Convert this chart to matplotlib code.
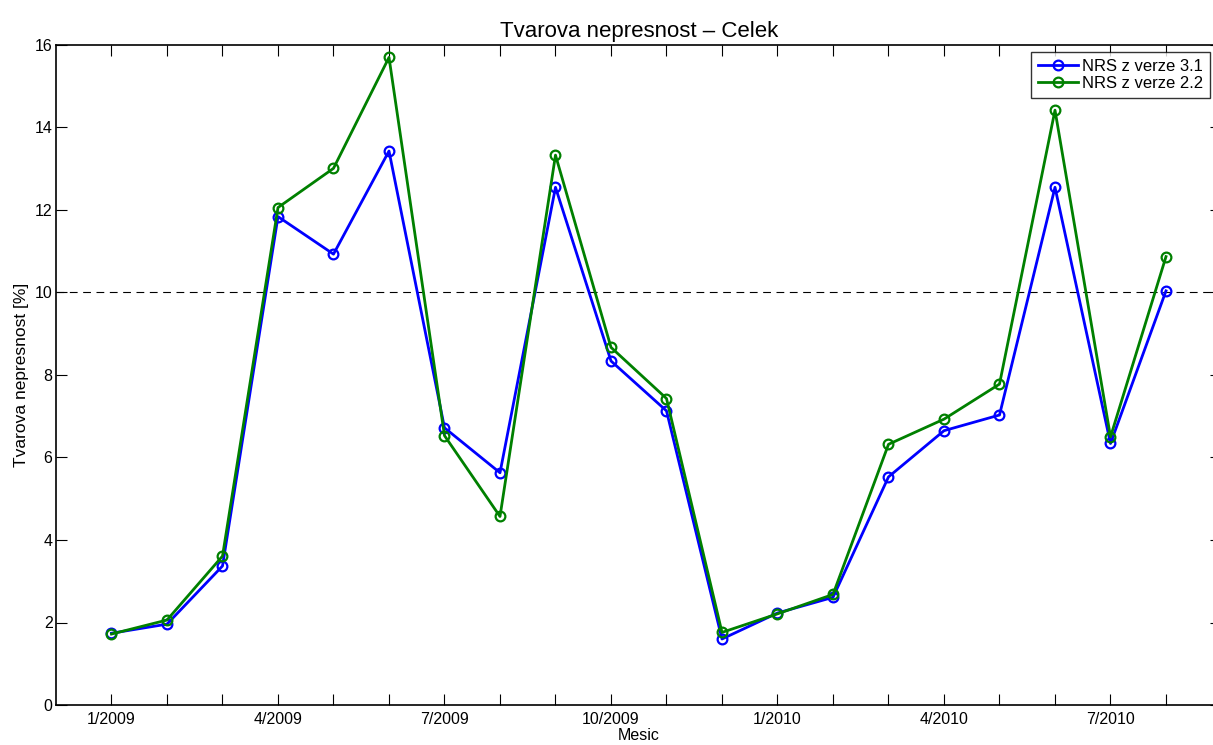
import matplotlib
matplotlib.use('Agg')
from matplotlib import pyplot as plt
import numpy as np

plt.rcParams['font.family'] = ['Liberation Sans', 'DejaVu Sans']

# Mesice 1/2009 .. 8/2010
months = ['1/2009', '2/2009', '3/2009', '4/2009', '5/2009', '6/2009', '7/2009',
          '8/2009', '9/2009', '10/2009', '11/2009', '12/2009', '1/2010', '2/2010',
          '3/2010', '4/2010', '5/2010', '6/2010', '7/2010', '8/2010']
nrs_31 = [1.74, 1.96, 3.37, 11.84, 10.93, 13.43, 6.72, 5.63, 12.55, 8.34,
          7.13, 1.60, 2.23, 2.61, 5.53, 6.65, 7.03, 12.55, 6.34, 10.04]
nrs_22 = [1.72, 2.06, 3.61, 12.06, 13.01, 15.70, 6.53, 4.57, 13.33, 8.67,
          7.43, 1.76, 2.21, 2.68, 6.32, 6.93, 7.78, 14.42, 6.50, 10.87]
limit = 10

x = np.arange(1, len(months) + 1)

fig = plt.figure(figsize=(12.13, 7.45), dpi=100)
ax = fig.add_axes([56/1213, 40/745, 1165.5/1213, 660/745])

ax.axhline(limit, color='k', lw=0.8, ls=(0, (7, 5)))
ax.plot(x, nrs_31, '-o', color='#0000ff', lw=2, ms=7, mfc='none', mew=1.6, label='NRS z verze 3.1')
ax.plot(x, nrs_22, '-o', color='#008000', lw=2, ms=7, mfc='none', mew=1.6, label='NRS z verze 2.2')

ax.set_xlim(0, 21)
ax.set_ylim(0, 16)
ax.set_xticks(x)
ax.set_xticklabels([m if i % 3 == 0 else '' for i, m in enumerate(months)])
ax.set_yticks(np.arange(0, 17, 2))
ax.tick_params(direction='in', length=8, width=0.8, top=True, right=True, labelsize=11.5)
ax.tick_params(axis='y', pad=2.5)
ax.tick_params(axis='x', pad=5)
for s in ax.spines.values():
    s.set_linewidth(1.2)

ax.set_title('Tvarova nepresnost \u2013 Celek', fontsize=16, pad=6)
ax.set_xlabel('Mesic', fontsize=11.5, labelpad=1)
ax.set_ylabel('Tvarova nepresnost [%]', fontsize=12.5, labelpad=4)

leg = ax.legend(loc='upper right', bbox_to_anchor=(1210/1213, 1 - 52/745),
                bbox_transform=fig.transFigure, fontsize=12, frameon=True,
                fancybox=False, edgecolor='k', borderpad=0.4, labelspacing=0.15,
                handlelength=2.4, handletextpad=0.25, borderaxespad=0)
leg.get_frame().set_linewidth(1.0)

fig.savefig('out.png', dpi=100)
